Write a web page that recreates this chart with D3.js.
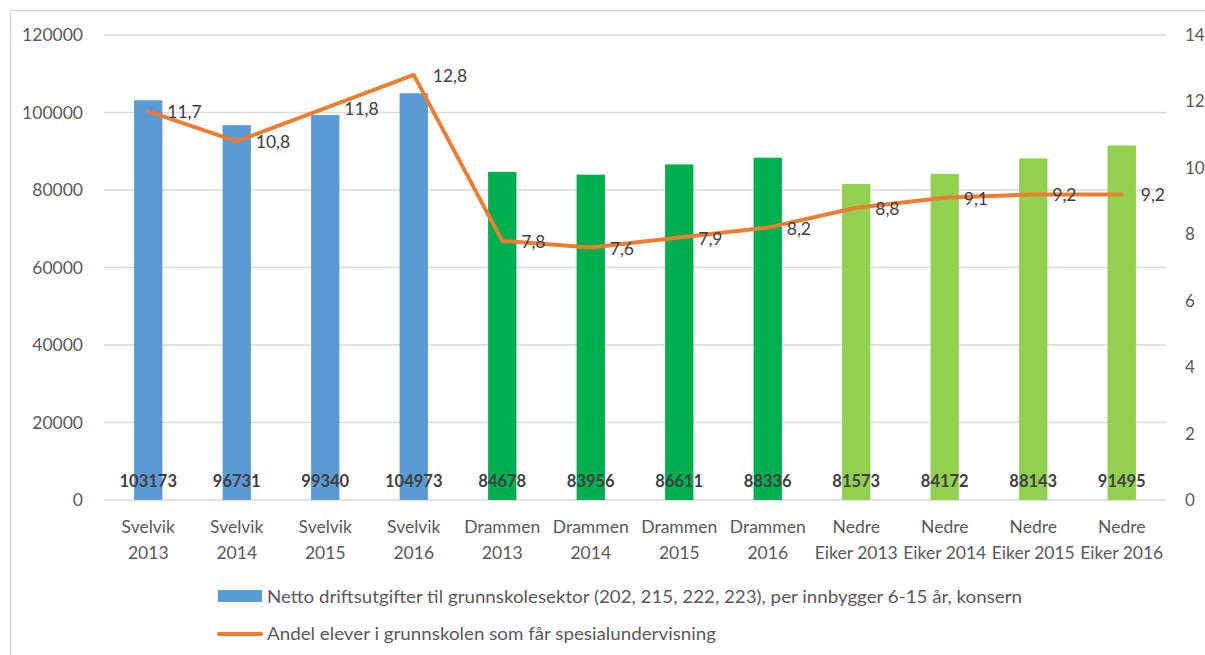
<!DOCTYPE html>
<html><head><meta charset="utf-8">
<script src="https://cdn.jsdelivr.net/npm/d3@7"></script>
<style>body{margin:0;background:#fff}svg{display:block}</style>
</head><body>
<svg id="c" width="1205" height="655"></svg>
<script>
const categories = [["Svelvik","2013"],["Svelvik","2014"],["Svelvik","2015"],["Svelvik","2016"],
  ["Drammen","2013"],["Drammen","2014"],["Drammen","2015"],["Drammen","2016"],
  ["Nedre","Eiker 2013"],["Nedre","Eiker 2014"],["Nedre","Eiker 2015"],["Nedre","Eiker 2016"]];
const barValues = [103173,96731,99340,104973,84678,83956,86611,88336,81573,84172,88143,91495];
const lineValues = [11.7,10.8,11.8,12.8,7.8,7.6,7.9,8.2,8.8,9.1,9.2,9.2];
const barGroups = ["Svelvik","Svelvik","Svelvik","Svelvik","Drammen","Drammen","Drammen","Drammen","Nedre Eiker","Nedre Eiker","Nedre Eiker","Nedre Eiker"];
const leftTicks = [0,20000,40000,60000,80000,100000,120000];
const rightTicks = [0,2,4,6,8,10,12,14];
const seriesNames = ["Netto driftsutgifter til grunnskolesektor (202, 215, 222, 223), per innbygger 6-15 år, konsern",
  "Andel elever i grunnskolen som får spesialundervisning"];
const groupColors = {"Svelvik":"#5B9BD5","Drammen":"#00B050","Nedre Eiker":"#92D050"};

const svg = d3.select("#c");
const font = "Lato, 'Open Sans', sans-serif";
const m = {l:104, r:1166, t:35, b:500};

svg.append("rect").attr("x",10.5).attr("y",10.5).attr("width",1200).attr("height",650)
  .attr("fill","#fff").attr("stroke","#d9d9d9");

const x = d3.scaleBand().domain(d3.range(categories.length)).range([m.l,m.r]).paddingInner(0.68).paddingOuter(0.34);
const yL = d3.scaleLinear().domain([0,120000]).range([m.b,m.t]);
const yR = d3.scaleLinear().domain([0,14]).range([m.b,m.t]);

// gridlines
svg.append("g").selectAll("line").data(leftTicks).join("line")
  .attr("x1",m.l).attr("x2",m.r).attr("y1",d=>yL(d)).attr("y2",d=>yL(d))
  .attr("stroke","#d9d9d9").attr("stroke-width",1.3);

// left axis
const ax = d3.axisLeft(yL).tickValues(leftTicks).tickSize(0).tickPadding(21).tickFormat(d3.format("d"));
const gL = svg.append("g").attr("transform",`translate(${m.l},0)`).call(ax);
gL.select(".domain").remove();
gL.selectAll("text").attr("font-family",font).attr("font-size",17.5).attr("fill","#595959");

const axR = d3.axisRight(yR).tickValues(rightTicks).tickSize(0).tickPadding(19);
const gR = svg.append("g").attr("transform",`translate(${m.r},0)`).call(axR);
gR.select(".domain").remove();
gR.selectAll("text").attr("font-family",font).attr("font-size",17).attr("fill","#595959");

// bars
svg.append("g").selectAll("rect").data(barValues).join("rect")
  .attr("x",(d,i)=>x(i)).attr("width",x.bandwidth())
  .attr("y",d=>yL(d)).attr("height",d=>yL(0)-yL(d))
  .attr("fill",(d,i)=>groupColors[barGroups[i]]);

// bar labels
svg.append("g").selectAll("text").data(barValues).join("text")
  .attr("x",(d,i)=>x(i)+x.bandwidth()/2).attr("y",487)
  .attr("text-anchor","middle").attr("font-family",font).attr("font-weight","bold")
  .attr("font-size",16.5).attr("fill","#404040").text(d=>d);

// x labels
const xl = svg.append("g").selectAll("text").data(categories).join("text")
  .attr("text-anchor","middle").attr("font-family",font).attr("font-size",17.5).attr("fill","#595959");
xl.append("tspan").attr("x",(d,i)=>x(i)+x.bandwidth()/2).attr("y",533).text(d=>d[0]);
xl.append("tspan").attr("x",(d,i)=>x(i)+x.bandwidth()/2).attr("y",559).text(d=>d[1]);

// line
const line = d3.line().x((d,i)=>x(i)+x.bandwidth()/2).y(d=>yR(d));
svg.append("path").datum(lineValues).attr("d",line).attr("fill","none")
  .attr("stroke","#ED7D31").attr("stroke-width",4).attr("stroke-linejoin","round").attr("stroke-linecap","round");

svg.append("g").selectAll("text").data(lineValues).join("text")
  .attr("x",(d,i)=>x(i)+x.bandwidth()/2+19).attr("y",d=>yR(d)+7)
  .attr("font-family",font).attr("font-size",17.5).attr("fill","#404040")
  .text(d=>d3.format(".1f")(d).replace(".",","));

// legend
svg.append("rect").attr("x",218).attr("y",590).attr("width",44).attr("height",12).attr("fill","#5B9BD5");
svg.append("text").attr("x",267).attr("y",603).attr("font-family",font).attr("font-size",17.5).attr("fill","#595959")
  .attr("textLength",755).attr("lengthAdjust","spacingAndGlyphs").text(seriesNames[0]);
svg.append("line").attr("x1",219).attr("x2",261).attr("y1",634).attr("y2",634)
  .attr("stroke","#ED7D31").attr("stroke-width",4).attr("stroke-linecap","round");
svg.append("text").attr("x",267).attr("y",640).attr("font-family",font).attr("font-size",17.5).attr("fill","#595959")
  .attr("textLength",449).attr("lengthAdjust","spacingAndGlyphs").text(seriesNames[1]);
</script>
</body></html>
